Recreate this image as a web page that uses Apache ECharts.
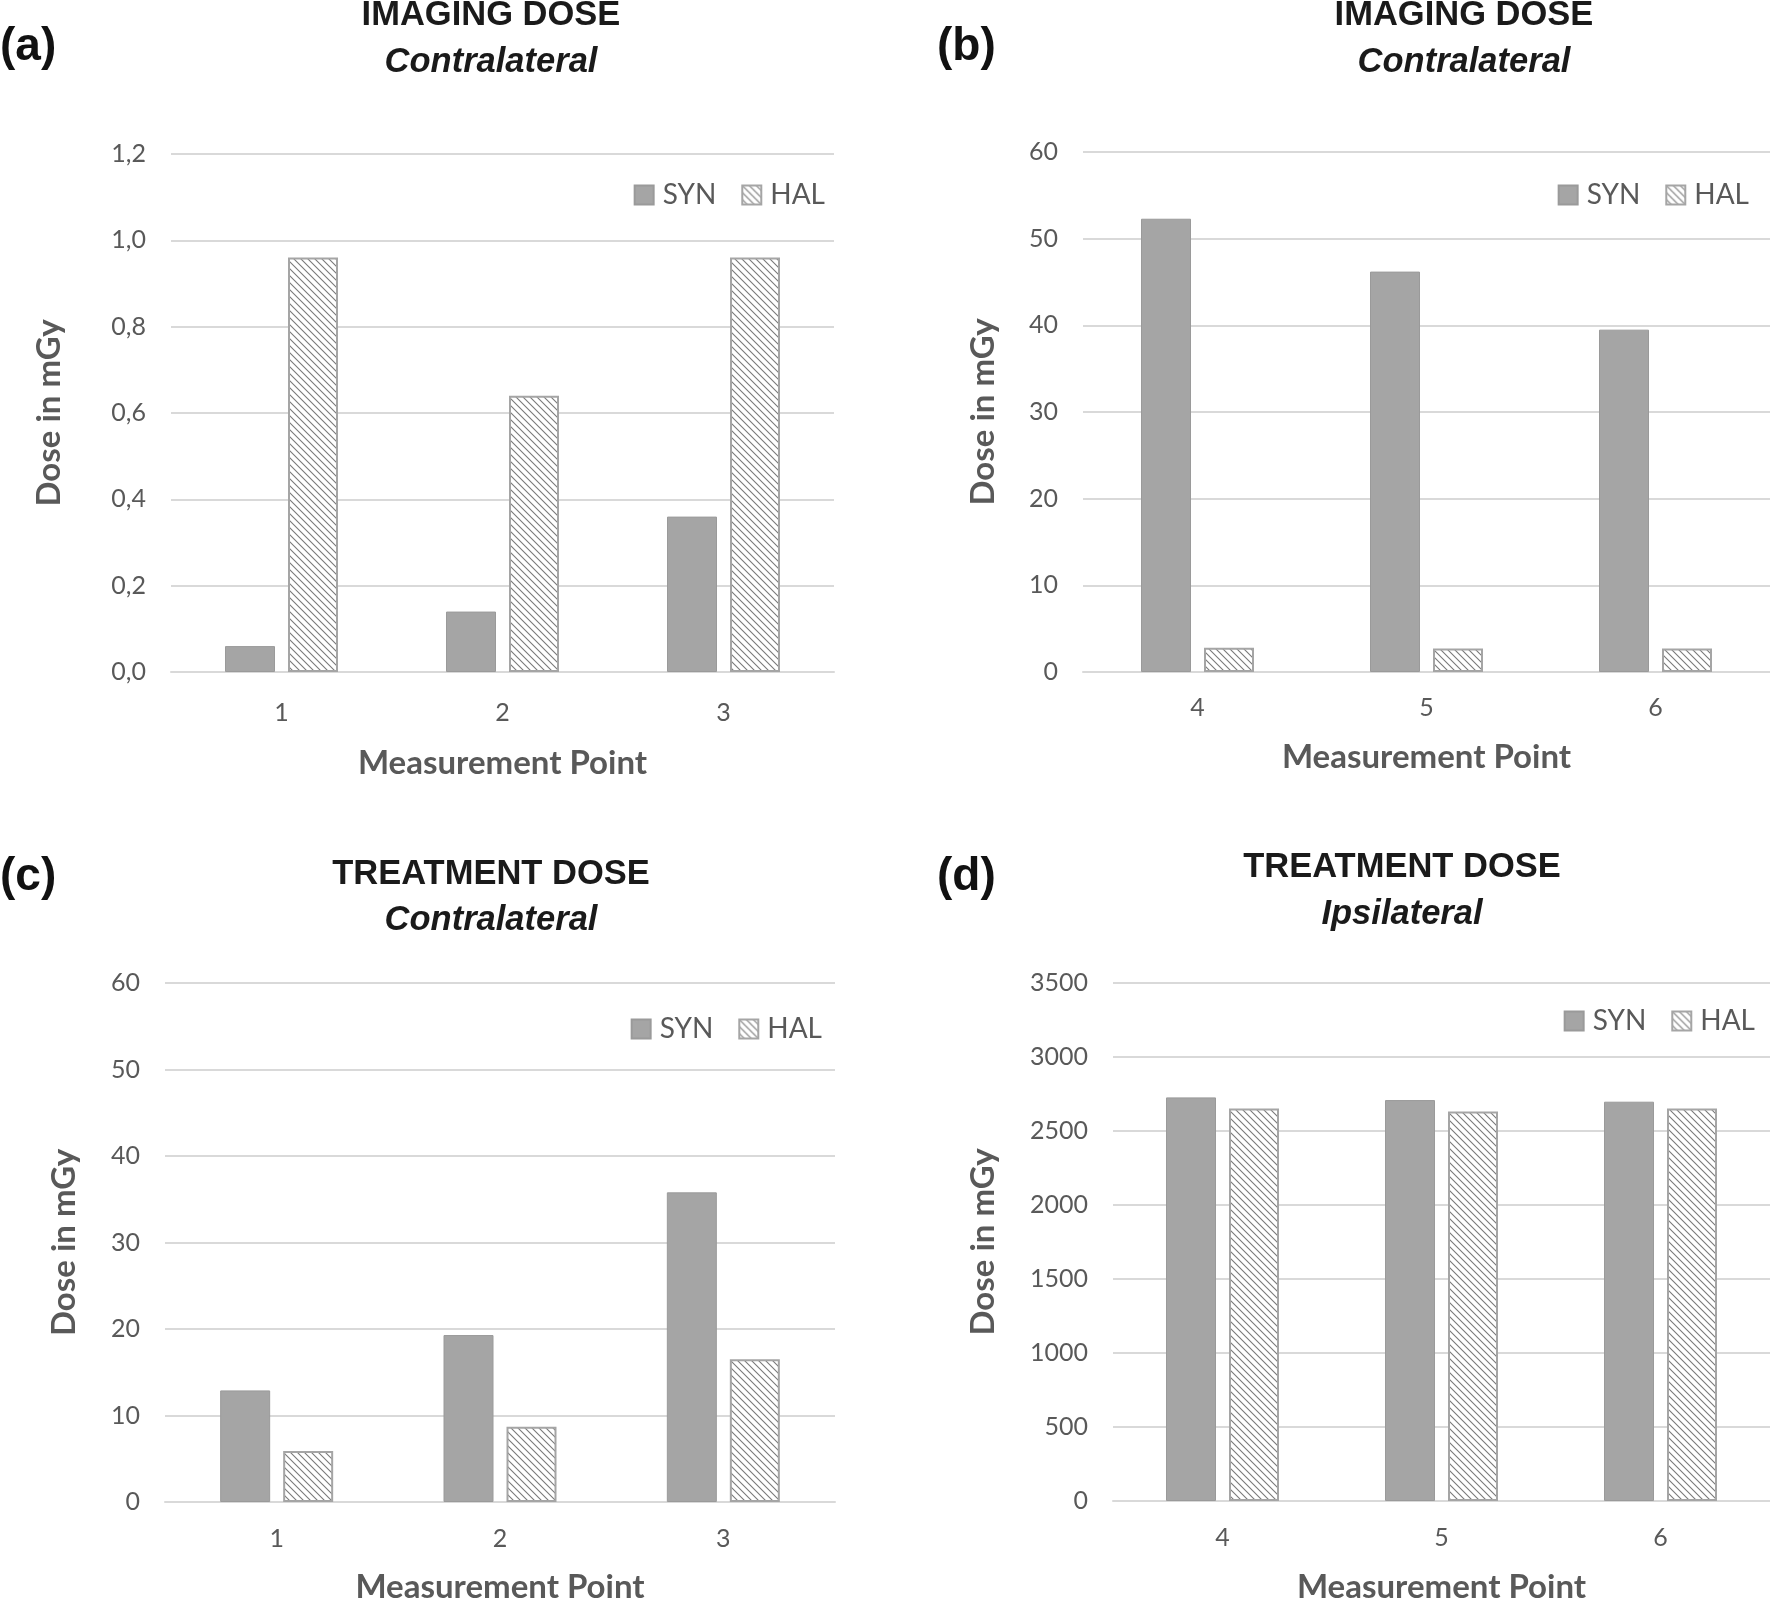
<!DOCTYPE html>
<html>
<head>
<meta charset="utf-8">
<script src="https://cdn.jsdelivr.net/npm/echarts@6/dist/echarts.min.js"></script>
<style>
html,body{margin:0;padding:0;background:#fff;}
#chart{width:1770px;height:1605px;}
</style>
</head>
<body>
<div id="chart"></div>
<script>
// ---- data ----
const categoriesLeft = ['1', '2', '3'];
const categoriesRight = ['4', '5', '6'];
const seriesNames = ['SYN', 'HAL'];

const synA = [0.06, 0.14, 0.36];
const halA = [0.96, 0.64, 0.96];
const synB = [52.3, 46.2, 39.5];
const halB = [2.8, 2.7, 2.7];
const synC = [12.9, 19.3, 35.8];
const halC = [5.9, 8.7, 16.5];
const synD = [2727, 2709, 2698];
const halD = [2652, 2631, 2652];

const panelLabels = ['(a)', '(b)', '(c)', '(d)'];
const titlesMain = ['IMAGING DOSE', 'IMAGING DOSE', 'TREATMENT DOSE', 'TREATMENT DOSE'];
const titlesSub = ['Contralateral', 'Contralateral', 'Contralateral', 'Ipsilateral'];
const xAxisTitle = 'Measurement Point';
const yAxisTitle = 'Dose in mGy';

// ---- hatch pattern ----
function makeHatch() {
  const c = document.createElement('canvas');
  const n = 7;
  c.width = n; c.height = n;
  const ctx = c.getContext('2d');
  ctx.fillStyle = '#ffffff';
  ctx.fillRect(0, 0, n, n);
  ctx.strokeStyle = '#7a7a7a';
  ctx.lineWidth = 1.1;
  ctx.beginPath();
  ctx.moveTo(-1, -1); ctx.lineTo(n + 1, n + 1);
  ctx.moveTo(-1, n - 1); ctx.lineTo(1, n + 1);
  ctx.moveTo(n - 1, -1); ctx.lineTo(n + 1, 1);
  ctx.stroke();
  return c;
}
const hatch = makeHatch();

const GRAY = '#a5a5a5';
const TXT = '#595959';
const LFONT = 'Lato, "Open Sans", "Noto Sans", sans-serif';
const TFONT = '"Liberation Sans", Arial, Helvetica, sans-serif';

const grids = [
  { left: 171, right: 1770 - 834, top: 154, bottom: 1605 - 672 },
  { left: 1083, right: 0, top: 152, bottom: 1605 - 672 },
  { left: 165, right: 1770 - 835, top: 983, bottom: 1605 - 1504 },
  { left: 1113, right: 0, top: 983, bottom: 1605 - 1506 }
];

const yCfg = [
  { max: 1.2, interval: 0.2, fmt: v => v.toFixed(1).replace('.', ','), nameGap: 105 },
  { max: 60, interval: 10, fmt: v => String(v), nameGap: 83 },
  { max: 60, interval: 10, fmt: v => String(v), nameGap: 84 },
  { max: 3500, interval: 500, fmt: v => String(v), nameGap: 113 }
];
const xCats = [categoriesLeft, categoriesRight, categoriesLeft, categoriesRight];
const xLabelMargin = [28, 23, 24, 24];
const xNameGap = [75, 69, 69, 70];

const xAxes = xCats.map((cats, i) => ({
  type: 'category', gridIndex: i, data: cats,
  axisLine: { show: true, lineStyle: { color: '#d9d9d9', width: 2 } },
  axisTick: { show: false },
  axisLabel: { color: TXT, fontFamily: LFONT, fontSize: 25, margin: xLabelMargin[i] },
  name: xAxisTitle, nameLocation: 'middle', nameGap: xNameGap[i],
  nameTextStyle: { color: TXT, fontFamily: LFONT, fontSize: 33, fontWeight: 'bold' }
}));

const yAxes = yCfg.map((c, i) => ({
  type: 'value', gridIndex: i, min: 0, max: c.max, interval: c.interval,
  axisLine: { show: false }, axisTick: { show: false },
  splitLine: { lineStyle: { color: '#d9d9d9', width: 2 } },
  axisLabel: { color: TXT, fontFamily: LFONT, fontSize: 25, margin: 25, formatter: c.fmt },
  name: yAxisTitle, nameLocation: 'middle', nameGap: c.nameGap, nameRotate: 90,
  nameTextStyle: { color: TXT, fontFamily: LFONT, fontSize: 33, fontWeight: 'bold' }
}));

const synData = [synA, synB, synC, synD];
const halData = [halA, halB, halC, halD];
const series = [];
for (let i = 0; i < 4; i++) {
  series.push({
    name: seriesNames[0], type: 'bar', xAxisIndex: i, yAxisIndex: i,
    data: synData[i], barWidth: 50, barGap: '26%',
    itemStyle: { color: GRAY, borderColor: '#9a9a9a', borderWidth: 1 },
    emphasis: { disabled: true }, animation: false
  });
  series.push({
    name: seriesNames[1], type: 'bar', xAxisIndex: i, yAxisIndex: i,
    data: halData[i], barWidth: 50, barGap: '26%',
    itemStyle: { color: { image: hatch, repeat: 'repeat' }, borderColor: GRAY, borderWidth: 2 },
    emphasis: { disabled: true }, animation: false
  });
}

const legendPos = [
  { right: 945, top: 181 },
  { right: 21, top: 181 },
  { right: 948, top: 1015 },
  { right: 15, top: 1007 }
];
const legends = legendPos.map(p => ({
  right: p.right, top: p.top, padding: 0, itemGap: 25, itemWidth: 19, itemHeight: 19,
  icon: 'rect', selectedMode: false,
  data: seriesNames,
  textStyle: { color: TXT, fontFamily: LFONT, fontSize: 28, padding: [0, 0, 0, 4] }
}));

const headPos = [
  { lx: 0, ly: 47, cx: 491, ty: 15, sy: 62 },
  { lx: 937, ly: 47, cx: 1464, ty: 15, sy: 62 },
  { lx: 0, ly: 877, cx: 491, ty: 874, sy: 920 },
  { lx: 937, ly: 877, cx: 1402, ty: 867, sy: 914.5 }
];
const graphics = [];
headPos.forEach((p, i) => {
  graphics.push({ type: 'text', x: p.lx, y: p.ly, style: { text: panelLabels[i], fontFamily: TFONT, fontSize: 46, fontWeight: 'bold', fill: '#111', align: 'left', verticalAlign: 'middle' } });
  graphics.push({ type: 'text', x: p.cx, y: p.ty, style: { text: titlesMain[i], fontFamily: TFONT, fontSize: 34.5, fontWeight: 'bold', fill: '#1a1a1a', align: 'center', verticalAlign: 'middle' } });
  graphics.push({ type: 'text', x: p.cx, y: p.sy, style: { text: titlesSub[i], fontFamily: TFONT, fontSize: 34.5, fontWeight: 'bold', fontStyle: 'italic', fill: '#1a1a1a', align: 'center', verticalAlign: 'middle' } });
});

const chart = echarts.init(document.getElementById('chart'), null, { renderer: 'canvas' });
chart.setOption({
  backgroundColor: '#ffffff',
  animation: false,
  grid: grids,
  xAxis: xAxes,
  yAxis: yAxes,
  legend: legends,
  series: series,
  graphic: graphics
});
</script>
</body>
</html>
